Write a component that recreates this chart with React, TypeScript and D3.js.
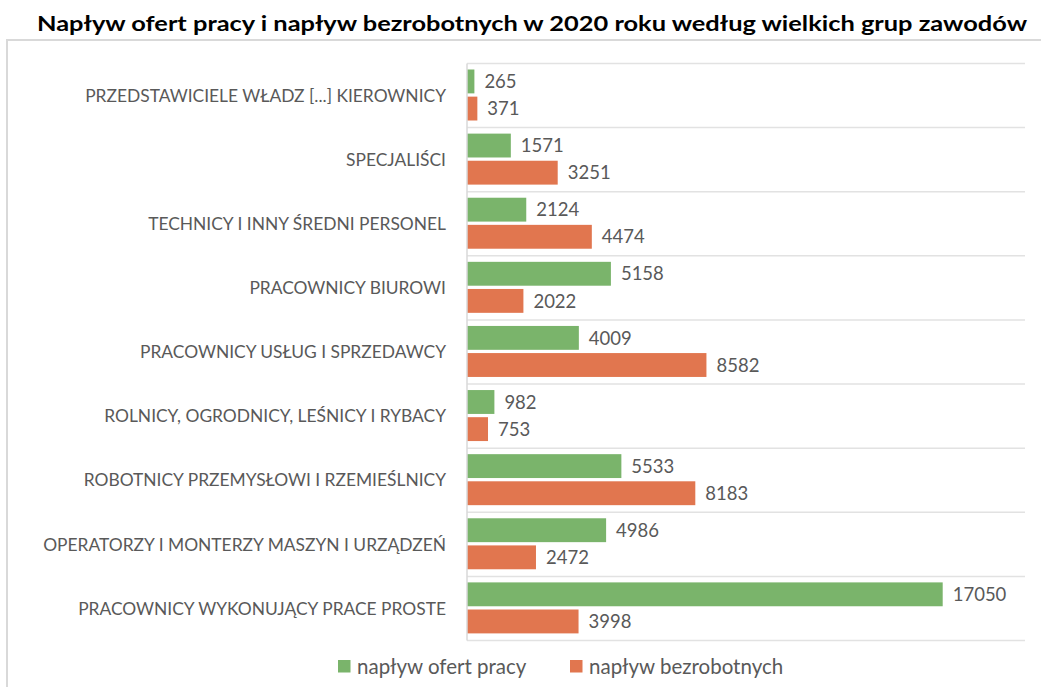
import React from "react";
import * as d3 from "d3";

const title = "Napływ ofert pracy i napływ bezrobotnych w 2020 roku według wielkich grup zawodów";
const categories = [
  "PRZEDSTAWICIELE WŁADZ [...] KIEROWNICY",
  "SPECJALIŚCI",
  "TECHNICY I INNY ŚREDNI PERSONEL",
  "PRACOWNICY BIUROWI",
  "PRACOWNICY USŁUG I SPRZEDAWCY",
  "ROLNICY, OGRODNICY, LEŚNICY I RYBACY",
  "ROBOTNICY PRZEMYSŁOWI I RZEMIEŚLNICY",
  "OPERATORZY I MONTERZY MASZYN I URZĄDZEŃ",
  "PRACOWNICY WYKONUJĄCY PRACE PROSTE",
];
const seriesNames = ["napływ ofert pracy", "napływ bezrobotnych"];
const ofertyPracy = [265, 1571, 2124, 5158, 4009, 982, 5533, 4986, 17050];
const bezrobotni = [371, 3251, 4474, 2022, 8582, 753, 8183, 2472, 3998];
const colors = ["#7AB46B", "#E1764F"];

export default function App() {
  const W = 1041, H = 687;
  const x = d3.scaleLinear().domain([0, 20000]).range([467, 1025]);
  const y = d3.scaleBand<string>().domain(categories).range([63.5, 640.5]);
  const inner = d3.scaleBand<string>().domain(["0", "1"]).range([6, 57]).paddingInner(0.12);
  const series = [ofertyPracy, bezrobotni];
  const font = "Lato, 'Open Sans', sans-serif";
  const textColor = "#595959";
  return (
    <svg width={W} height={H} style={{ position: "absolute", left: 0, top: 0, background: "#fff" }}>
      <rect x={0} y={0} width={W} height={H} fill="#fff" />
      <path d={`M7,${H + 5} V40 H${W + 5}`} fill="none" stroke="#D9D9D9" strokeWidth={2} />
      <text x={532} y={31} textAnchor="middle" fontFamily={font} fontWeight={700} fontSize={20.5} fill="#000"
        textLength={990} lengthAdjust="spacingAndGlyphs">{title}</text>
      {d3.range(categories.length + 1).map((i) => {
        const yy = 63.5 + i * y.step();
        return <line key={"g" + i} x1={x(0)} x2={x(20000)} y1={yy} y2={yy} stroke="#E2E2E2" strokeWidth={1.5} />;
      })}
      {categories.map((c, ci) => (
        <g key={c}>
          {series.map((s, si) => {
            const by = (y(c) as number) + (inner(String(si)) as number);
            const bh = inner.bandwidth();
            return (
              <g key={si}>
                <rect x={x(0)} y={by} width={x(s[ci]) - x(0)} height={bh} fill={colors[si]} />
                <text x={x(s[ci]) + 10} y={by + bh / 2} dy="0.36em" fontFamily={font} fontSize={18.5} fill={textColor}>
                  {s[ci]}
                </text>
              </g>
            );
          })}
          <text x={446} y={(y(c) as number) + y.bandwidth() / 2} dy="0.36em" textAnchor="end" fontFamily={font}
            fontSize={17.4} fill={textColor}>{c}</text>
        </g>
      ))}
      <line x1={x(0)} x2={x(0)} y1={63.5} y2={640.5} stroke="#D9D9D9" strokeWidth={1.5} />
      {seriesNames.map((n, i) => {
        const lx = i === 0 ? 338 : 570;
        return (
          <g key={n}>
            <rect x={lx} y={660} width={12.5} height={12.5} fill={colors[i]} />
            <text x={lx + 19} y={666.5} dy="0.36em" fontFamily={font} fontSize={20.5} fill={textColor}>{n}</text>
          </g>
        );
      })}
    </svg>
  );
}
